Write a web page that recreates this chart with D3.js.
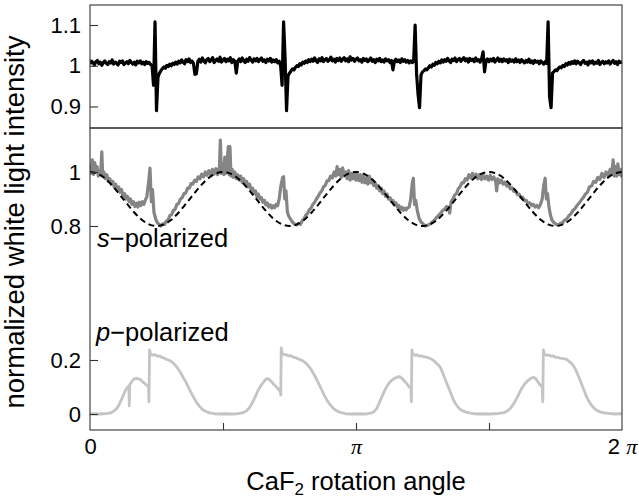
<!DOCTYPE html>
<html><head><meta charset="utf-8">
<script src="https://cdn.jsdelivr.net/npm/d3@7"></script>
<style>body{margin:0;background:#fff}svg{display:block}</style>
</head><body><svg id="c" width="639" height="499"></svg>
<script>
// angle in degrees (0..360 = 0..2π)
const xTicks = [0, 90, 180, 270, 360];
const xTickLabels = ["0", "", "π", "", "2 π"];
const topTicks = [0.9, 1, 1.1];
const sTicks = [0.8, 1];
const pTicks = [0, 0.2];

// top panel: one value per degree, 0..360
const topValues = [
1.004,1.011,1.008,1.002,1.010,1.013,1.005,1.009,1.001,1.008,
1.012,1.006,1.003,1.010,1.007,1.014,1.004,1.009,1.006,1.002,
1.011,1.008,1.012,1.003,1.007,1.010,1.005,1.013,1.008,1.004,
1.009,1.002,1.011,1.007,1.012,1.005,1.009,1.003,1.010,1.006,
1.008,1.003,1.000,0.952,1.108,0.890,0.972,0.982,0.988,0.993,
0.997,0.994,1.001,0.998,1.004,1.000,1.006,1.003,1.009,1.004,
1.011,1.007,1.014,1.009,1.005,1.015,1.010,1.017,1.008,1.012,
1.006,0.979,0.980,1.011,1.016,1.009,1.019,1.012,1.007,1.015,
1.018,1.010,1.014,1.020,1.008,1.013,1.017,1.011,1.021,1.009,
1.014,1.018,1.010,1.016,1.012,1.020,1.008,1.015,1.011,0.982,
1.012,1.017,1.010,1.019,1.013,1.008,1.016,1.011,1.020,1.014,
1.009,1.017,1.012,1.018,1.010,1.015,1.019,1.011,1.014,1.008,
1.016,1.012,1.018,1.009,1.014,1.010,1.015,1.007,1.011,1.000,
0.952,1.108,1.020,0.890,0.975,0.982,0.987,0.992,0.990,0.996,
1.000,0.998,1.005,1.002,1.009,1.006,1.012,1.008,1.015,1.010,
1.016,1.011,1.019,1.013,1.008,1.017,1.012,1.020,1.010,1.015,
1.018,1.011,1.014,1.021,1.012,1.016,1.009,1.018,1.013,1.019,
1.011,1.016,1.020,1.012,1.017,1.010,1.022,1.014,1.018,1.011,
1.016,1.019,1.012,1.015,1.009,1.018,1.013,1.017,1.010,1.014,
1.019,1.011,1.015,1.008,1.016,1.012,1.018,1.010,1.014,1.009,
1.017,1.012,1.015,1.008,1.013,0.990,1.011,1.016,1.010,1.014,
1.008,1.017,1.011,1.015,1.009,1.013,1.007,1.012,1.008,1.010,
1.100,0.980,0.930,0.897,0.978,0.985,0.988,0.992,0.990,0.995,
1.000,0.997,1.004,1.001,1.008,1.005,1.011,1.007,1.014,1.009,
1.015,1.011,1.018,1.012,1.008,1.016,1.013,1.019,1.010,1.015,
1.018,1.011,1.016,1.020,1.012,1.017,1.009,1.018,1.013,1.016,
1.010,1.019,1.012,1.015,1.009,1.017,1.034,0.985,1.013,1.017,
1.010,1.016,1.012,1.018,1.009,1.014,1.019,1.011,1.016,1.010,
1.017,1.012,1.015,1.008,1.016,1.011,1.014,1.009,1.017,1.010,
1.014,1.008,1.015,1.011,1.007,1.013,1.009,1.016,1.008,1.012,
1.006,1.013,1.009,1.011,1.005,1.012,1.008,1.004,1.010,1.006,
1.108,0.923,0.897,0.982,0.986,0.990,0.988,0.994,0.997,0.995,
1.001,0.998,1.005,1.002,1.008,1.004,1.010,1.006,1.012,1.005,
1.011,1.007,1.003,1.010,1.013,1.006,1.009,1.002,1.011,1.007,
1.012,1.004,1.009,1.006,1.013,1.003,1.008,1.011,1.005,1.010,
1.007,1.012,1.004,1.009,1.013,1.006,1.010,1.003,1.011,1.008,
1.009];

const sPol = [[0,1.03],[0.8,0.995],[1.6,1.045],[2.4,0.99],[3.2,1.035],[4,1.0],[4.8,1.02],[5.6,0.985],[6.4,1.005],[7.2,0.99],[8,1.075],[8.6,0.985],[9.4,1.0],[10.4,0.975],[11.4,0.99],[12.4,0.965],[13.4,0.975],[14.4,0.955],[15.4,0.965],[16.4,0.945],[17.4,0.955],[18.4,0.935],[19.4,0.945],[20.4,0.925],[21.4,0.935],[22.4,0.91],[23.4,0.92],[24.4,0.9],[25.4,0.91],[26.4,0.89],[27.4,0.9],[28.4,0.88],[29.4,0.89],[30.4,0.872],[31.4,0.885],[32.4,0.87],[33.4,0.888],[34.4,0.876],[35.4,0.89],[36.4,0.88],[37.4,0.895],[38.5,0.91],[39.8,0.97],[40.6,1.014],[41.5,0.89],[42.3,0.935],[43.3,0.85],[44.5,0.825],[45.6,0.812],[46.8,0.806],[48,0.8],[49.2,0.808],[50.4,0.806],[51.6,0.818],[52.8,0.822],[54,0.838],[55.2,0.842],[56.4,0.858],[57.6,0.862],[58.8,0.88],[60,0.884],[61.2,0.9],[62.4,0.905],[63.6,0.92],[64.8,0.922],[66,0.94],[67.2,0.94],[68.4,0.957],[69.6,0.955],[70.8,0.97],[72,0.965],[73.2,0.982],[74.4,0.975],[75.6,0.992],[76.8,0.982],[78,1.0],[79.2,0.988],[80.4,1.005],[81.6,0.99],[82.8,1.01],[84,0.992],[85.2,1.012],[86.4,0.99],[87.6,1.02],[88.2,1.118],[88.9,0.995],[89.8,1.03],[90.6,0.99],[91.2,1.055],[91.9,0.995],[92.7,1.03],[93.6,1.094],[94.2,0.99],[94.7,1.094],[95.4,0.985],[96.2,1.01],[97,0.98],[98,1.0],[99,0.975],[100,0.99],[101,0.97],[102,0.985],[103,0.962],[104,0.975],[105,0.955],[106,0.965],[107,0.945],[108,0.955],[109,0.935],[110,0.94],[111,0.92],[112,0.93],[113,0.908],[114,0.918],[115,0.9],[116,0.905],[117,0.888],[118,0.895],[119,0.878],[120,0.885],[121,0.87],[122,0.878],[123,0.866],[124,0.875],[125,0.868],[126,0.88],[127,0.875],[128,0.9],[129.2,0.95],[130.4,0.98],[131,0.983],[131.8,0.9],[132.6,0.93],[133.6,0.85],[134.6,0.835],[136,0.822],[137.4,0.812],[138.8,0.806],[140,0.804],[141.2,0.81],[142.4,0.806],[143.6,0.82],[144.8,0.826],[146,0.84],[147.2,0.846],[148.4,0.86],[149.6,0.866],[150.8,0.88],[152,0.888],[153.2,0.9],[154.4,0.91],[155.6,0.922],[156.8,0.93],[158,0.945],[159.2,0.95],[160.4,0.967],[161.6,0.968],[162.8,0.985],[164,0.978],[165.2,1.0],[166.4,0.985],[167.2,1.02],[168,0.99],[169,1.01],[170,0.98],[171,1.015],[172,0.985],[173,1.0],[174,0.975],[175,1.005],[176,0.97],[177,0.995],[178,0.975],[179,0.998],[180,0.97],[181,0.99],[182,0.968],[183,0.99],[184,0.962],[185,0.985],[186,0.96],[187,0.978],[188,0.955],[189,0.985],[190,0.96],[191,0.97],[192,0.95],[193,0.96],[194,0.94],[195,0.95],[196,0.93],[197,0.94],[198,0.92],[199,0.93],[200,0.91],[201,0.918],[202,0.9],[203,0.905],[204,0.89],[205,0.895],[206,0.878],[207,0.886],[208,0.87],[209,0.876],[210,0.862],[211,0.87],[212,0.858],[213,0.866],[214,0.86],[215,0.868],[216,0.87],[217,0.9],[218,0.955],[218.8,0.977],[219.6,0.88],[220.4,0.895],[221.4,0.86],[222.6,0.83],[224,0.815],[225.4,0.808],[226.8,0.8],[228,0.802],[229.2,0.805],[230.4,0.808],[231.6,0.815],[232.8,0.82],[234,0.828],[235.2,0.835],[236.4,0.842],[237.6,0.85],[238.8,0.858],[240,0.862],[241.2,0.872],[242.4,0.87],[243.4,0.848],[244.4,0.89],[245.6,0.9],[246.8,0.915],[248,0.92],[249.2,0.938],[250.4,0.945],[251.6,0.96],[252.8,0.96],[254,0.975],[255.2,0.97],[256.4,0.99],[257.6,0.978],[258.8,0.995],[260,0.98],[261.2,0.992],[262.4,0.975],[263.6,0.99],[264.8,0.972],[266,0.988],[267.2,0.975],[268.4,0.985],[269.6,0.97],[270.8,0.988],[272,0.972],[273.2,0.982],[274.4,0.968],[275.2,0.93],[276,0.975],[277.2,0.96],[278.4,0.97],[279.6,0.955],[280.8,0.962],[282,0.948],[283.2,0.952],[284.4,0.938],[285.6,0.942],[286.8,0.928],[288,0.93],[289.2,0.916],[290.4,0.918],[291.6,0.905],[292.8,0.906],[294,0.894],[295.2,0.895],[296.4,0.884],[297.6,0.886],[298.8,0.876],[300,0.88],[301.2,0.87],[302.4,0.876],[303.6,0.868],[304.8,0.88],[306,0.9],[307,0.95],[308,0.977],[308.8,0.9],[309.6,0.92],[310.6,0.87],[311.6,0.84],[312.6,0.822],[314,0.812],[315.4,0.806],[317,0.804],[318.4,0.81],[319.8,0.812],[321.2,0.822],[322.6,0.826],[324,0.838],[325.4,0.845],[326.8,0.858],[328.2,0.864],[329.6,0.876],[331,0.885],[332.4,0.896],[333.8,0.905],[335.2,0.918],[336.6,0.925],[338,0.945],[339.4,0.948],[340.8,0.965],[342.2,0.962],[343.6,0.98],[345,0.972],[346.4,0.995],[347.8,0.98],[349.2,1.0],[350.6,0.985],[352,1.01],[353,0.99],[354,1.045],[354.8,0.985],[355.6,1.02],[356.4,0.985],[357.2,1.03],[358,0.99],[358.8,1.01],[359.6,0.985],[360,1.0]];

// fitted curve, sampled every 5 degrees
const fitStep = 5;
const fitValues = [1,0.994,0.977,0.95,0.917,0.883,0.85,0.823,0.806,0.8,0.806,0.823,0.85,0.883,0.917,0.95,0.977,0.994,
1,0.994,0.977,0.95,0.917,0.883,0.85,0.823,0.806,0.8,0.806,0.823,0.85,0.883,0.917,0.95,0.977,0.994,
1,0.994,0.977,0.95,0.917,0.883,0.85,0.823,0.806,0.8,0.806,0.823,0.85,0.883,0.917,0.95,0.977,0.994,
1,0.994,0.977,0.95,0.917,0.883,0.85,0.823,0.806,0.8,0.806,0.823,0.85,0.883,0.917,0.95,0.977,0.994,1];

const pPol = [[0,0],[3,0.001],[6,0],[9,0.001],[12,0.002],[14,0.004],[16,0.01],[18,0.02],[19.5,0.032],[21,0.05],[22.5,0.068],[24,0.088],[25.5,0.1],[26.3,0.104],[26.6,0.03],[26.9,0.108],[28,0.118],[29.5,0.128],[31,0.133],[32.5,0.13],[34,0.128],[35.5,0.12],[37,0.113],[38.5,0.106],[39.6,0.1],[39.9,0.045],[40.3,0.237],[41,0.222],[42.5,0.218],[44,0.22],[45.5,0.214],[47,0.215],[48.5,0.21],[50,0.208],[51.5,0.203],[53,0.2],[54.5,0.196],[56,0.19],[57.5,0.182],[59,0.172],[60.5,0.16],[62,0.146],[63.5,0.131],[65,0.117],[66.5,0.1],[68,0.084],[69.5,0.068],[71,0.053],[72.5,0.04],[74,0.029],[75.5,0.02],[77,0.013],[79,0.008],[81,0.004],[84,0.001],[88,0],[92,0.001],[96,0],[100,0.001],[102,0.003],[104,0.006],[106,0.012],[108,0.024],[110,0.043],[112,0.066],[114,0.09],[116,0.108],[118,0.122],[119.5,0.131],[121,0.129],[122.5,0.122],[124,0.112],[125.5,0.104],[127,0.095],[128.9,0.083],[129.1,0.07],[129.4,0.245],[130,0.226],[131.5,0.219],[133,0.22],[134.5,0.215],[136,0.216],[137.5,0.211],[139,0.209],[140.5,0.205],[142,0.202],[143.5,0.198],[145,0.193],[146.5,0.186],[148,0.177],[149.5,0.166],[151,0.152],[152.5,0.137],[154,0.121],[155.5,0.104],[157,0.087],[158.5,0.07],[160,0.055],[161.5,0.042],[163,0.031],[164.5,0.022],[166,0.015],[168,0.009],[170,0.005],[173,0.001],[177,0],[181,0.001],[185,0],[188,0.001],[190,0.003],[192,0.008],[194,0.02],[196,0.045],[198,0.07],[200,0.094],[202,0.112],[204,0.124],[206,0.132],[208,0.137],[209.8,0.138],[211.5,0.13],[213,0.12],[214.5,0.112],[216,0.1],[217.2,0.097],[217.5,0.045],[217.8,0.237],[218.5,0.222],[220,0.217],[221.5,0.219],[223,0.214],[224.5,0.215],[226,0.212],[227.5,0.211],[229,0.208],[230.5,0.205],[232,0.2],[233.5,0.193],[235,0.185],[236.8,0.175],[238.5,0.155],[240,0.133],[241.5,0.113],[243,0.093],[244.5,0.072],[246,0.052],[247.5,0.037],[249,0.026],[250.5,0.018],[252,0.012],[255,0.006],[258,0.002],[262,0],[266,0.001],[270,0],[274,0.001],[277,0.002],[280,0.005],[282,0.01],[284,0.018],[286,0.032],[288,0.05],[290,0.072],[292,0.094],[294,0.11],[296,0.122],[298,0.131],[300,0.136],[301.5,0.132],[303,0.12],[304.5,0.108],[306,0.1],[306.4,0.045],[306.8,0.237],[307.5,0.222],[309,0.217],[310.5,0.219],[312,0.214],[313.5,0.215],[315,0.21],[316.5,0.21],[318,0.207],[319.5,0.206],[321,0.204],[322.6,0.202],[324,0.196],[325.5,0.189],[327,0.18],[328.5,0.166],[330,0.147],[331.6,0.126],[333,0.106],[334.5,0.085],[336,0.064],[337.5,0.048],[339,0.035],[340.6,0.025],[342,0.017],[343.5,0.012],[345,0.008],[348,0.004],[351,0.002],[355,0],[360,0.001]];

const svg = d3.select("#c");
const L = 90, R = 622, T = 5, M = 128, B = 430;
const x = d3.scaleLinear().domain([0, 360]).range([L, R]);
const yTop = d3.scaleLinear().domain([0.9, 1.1]).range([106.5, 25]);
const yS = d3.scaleLinear().domain([0.8, 1.0]).range([226, 172]);
const yP = d3.scaleLinear().domain([0, 0.2]).range([414, 360]);
const sans = "'Liberation Sans', Arial, Helvetica, sans-serif";

const defs = svg.append("defs");
defs.append("clipPath").attr("id","ct").append("rect").attr("x",L).attr("y",T).attr("width",R-L).attr("height",M-T);
defs.append("clipPath").attr("id","cb").append("rect").attr("x",L).attr("y",M).attr("width",R-L).attr("height",B-M);

const lineOf = y => d3.line().x(d => x(d[0])).y(d => y(d[1]));

// top panel
const topLine = topValues.map((v, i) => [i, v]);
svg.append("path").datum(topLine).attr("clip-path","url(#ct)")
  .attr("d", lineOf(yTop)).attr("fill","none").attr("stroke","#000")
  .attr("stroke-width",3.2).attr("stroke-linejoin","round");

// bottom panel
const gb = svg.append("g").attr("clip-path","url(#cb)");
gb.append("path").datum(sPol).attr("d", lineOf(yS)).attr("fill","none")
  .attr("stroke","#858585").attr("stroke-width",3.2).attr("stroke-linejoin","round");
gb.append("path").datum(pPol).attr("d", lineOf(yP)).attr("fill","none")
  .attr("stroke","#c4c4c4").attr("stroke-width",2.8).attr("stroke-linejoin","round");
const fit = fitValues.map((v, i) => [i * fitStep, v]);
gb.append("path").datum(fit).attr("d", lineOf(yS).curve(d3.curveMonotoneX)).attr("fill","none")
  .attr("stroke","#000").attr("stroke-width",2).attr("stroke-dasharray","6,4");

// frames
svg.append("rect").attr("x",L).attr("y",T).attr("width",R-L).attr("height",M-T)
  .attr("fill","none").attr("stroke","#333").attr("stroke-width",1.1);
svg.append("rect").attr("x",L).attr("y",M).attr("width",R-L).attr("height",B-M)
  .attr("fill","none").attr("stroke","#333").attr("stroke-width",1.1);

function styleAxis(g){
  g.select(".domain").remove();
  g.selectAll(".tick line").attr("stroke","#333").attr("stroke-width",1.1);
  g.selectAll(".tick text").attr("font-family",sans).attr("font-size",22).attr("fill","#000");
}
const fmt = d => String(d);
svg.append("g").attr("transform",`translate(${L},0)`)
  .call(d3.axisLeft(yTop).tickValues(topTicks).tickSize(-8).tickPadding(9).tickFormat(fmt)).call(styleAxis);
svg.append("g").attr("transform",`translate(${L},0)`)
  .call(d3.axisLeft(yS).tickValues(sTicks).tickSize(-8).tickPadding(9).tickFormat(fmt)).call(styleAxis);
svg.append("g").attr("transform",`translate(${L},0)`)
  .call(d3.axisLeft(yP).tickValues(pTicks).tickSize(-8).tickPadding(9).tickFormat(fmt)).call(styleAxis);

const gx = svg.append("g").attr("transform",`translate(0,${B})`)
  .call(d3.axisBottom(x).tickValues(xTicks).tickSize(-7).tickPadding(8).tickFormat(() => ""));
styleAxis(gx);
gx.selectAll(".tick text").each(function(d, i){
  const t = d3.select(this);
  const s = xTickLabels[i];
  if (s.includes("π")) {
    const parts = s.split("π");
    if (parts[0]) t.append("tspan").text(parts[0]);
    t.append("tspan").attr("font-family","'Liberation Serif', 'Times New Roman', serif")
      .attr("font-style","italic").text("π");
  } else t.text(s);
});
gx.selectAll(".tick line").filter((d,i) => i === 0 || i === xTicks.length-1).remove();

// labels
const lbl = (xx, yy, ital, rest) => {
  const t = svg.append("text").attr("x",xx).attr("y",yy).attr("font-family",sans).attr("font-size",25.5);
  t.append("tspan").attr("font-style","italic").text(ital);
  t.append("tspan").text(rest);
};
lbl(97, 247, "s", "−polarized");
lbl(96, 341, "p", "−polarized");

svg.append("text").attr("transform","translate(24,222) rotate(-90)").attr("text-anchor","middle")
  .attr("font-family",sans).attr("font-size",27.5).text("normalized white light intensity");

const xt = svg.append("text").attr("x",356).attr("y",490).attr("text-anchor","middle")
  .attr("font-family",sans).attr("font-size",25.5);
xt.append("tspan").text("CaF");
xt.append("tspan").attr("font-size",17).attr("dy",5).text("2");
xt.append("tspan").attr("dy",-5).text(" rotation angle");
</script></body></html>
